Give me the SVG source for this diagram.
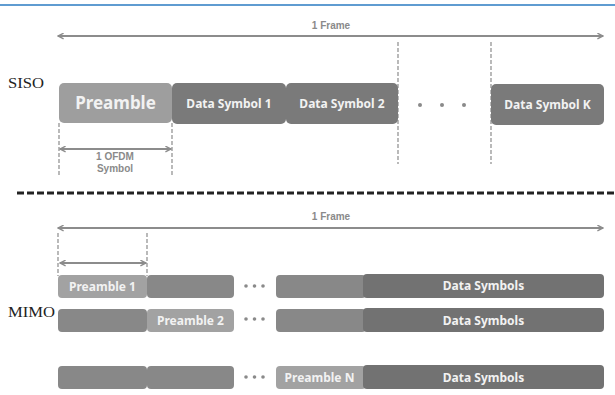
<svg xmlns="http://www.w3.org/2000/svg" width="615" height="395" viewBox="0 0 615 395">
<defs>
<marker id="ah" viewBox="0 0 10 10" refX="9" refY="5" markerWidth="7" markerHeight="7" orient="auto-start-reverse" markerUnits="userSpaceOnUse">
<path d="M1,1 L9,5 L1,9" fill="none" stroke="#8c8c8c" stroke-width="2"/>
</marker>
<style>
.bg{fill:#ffffff}
.arr{stroke:#8c8c8c;stroke-width:2;fill:none;marker-start:url(#ah);marker-end:url(#ah)}
.dash{stroke:#8c8c8c;stroke-width:1.2;stroke-dasharray:4,2;fill:none}
.sep{stroke:#222;stroke-width:3;stroke-dasharray:7,3;fill:none}
.pre{fill:#9e9e9e}
.pre2{fill:#a2a2a2}
.dat{fill:#7a7a7a}
.mid{fill:#888888}
.dk{fill:#727272}
.lbl{font-family:"Liberation Sans",Arial,sans-serif;font-size:10px;fill:#8a8a8a;font-weight:bold;text-anchor:middle}
.bt{font-family:"Noto Sans","Open Sans",sans-serif;font-weight:bold;fill:#f2f2f2;text-anchor:middle}
.side{font-family:"Liberation Serif","Times New Roman",serif;font-size:15px;fill:#222}
.dot{fill:#8a8a8a}
</style>
</defs>
<rect class="bg" x="0" y="0" width="615" height="395"/>
<line x1="0" y1="5" x2="615" y2="5" stroke="#2a7bc2" stroke-width="1.5"/>

<g id="connectors">
<line class="arr" x1="58" y1="36" x2="603" y2="36"/>
<line class="dash" x1="398" y1="42" x2="398" y2="164"/>
<line class="dash" x1="491" y1="42" x2="491" y2="164"/>
<line class="dash" x1="59" y1="123" x2="59" y2="177"/>
<line class="dash" x1="172" y1="123" x2="172" y2="177"/>
<line class="arr" x1="60" y1="149" x2="171" y2="149"/>
<line class="sep" x1="17" y1="193" x2="615" y2="193"/>
<line class="arr" x1="58" y1="228" x2="603" y2="228"/>
<line class="dash" x1="58" y1="233" x2="58" y2="276"/>
<line class="dash" x1="147" y1="233" x2="147" y2="276"/>
<line class="arr" x1="60" y1="263" x2="146" y2="263"/>
</g>

<g id="labels">
<text class="lbl" x="331" y="29">1 Frame</text>
<text class="lbl" x="115" y="160">1 OFDM</text>
<text class="lbl" x="115" y="172">Symbol</text>
<text class="lbl" x="331" y="220">1 Frame</text>
<text class="side" x="8" y="88" textLength="36" lengthAdjust="spacingAndGlyphs">SISO</text>
<text class="side" x="8" y="317" textLength="47" lengthAdjust="spacingAndGlyphs">MIMO</text>
</g>

<g id="siso-preamble">
<rect class="pre" x="59" y="83" width="113" height="40" rx="5"/>
<text class="bt" x="115.5" y="109" font-size="17" font-weight="500">Preamble</text>
</g>
<g id="siso-data1">
<rect class="dat" x="172" y="83" width="114" height="41" rx="5"/>
<text class="bt" x="229" y="108" font-size="12">Data Symbol 1</text>
</g>
<g id="siso-data2">
<rect class="dat" x="286" y="83" width="112" height="41" rx="5"/>
<text class="bt" x="342" y="108" font-size="12">Data Symbol 2</text>
</g>
<g id="siso-dots">
<circle class="dot" cx="420" cy="105" r="2"/>
<circle class="dot" cx="442" cy="105" r="2"/>
<circle class="dot" cx="464" cy="105" r="2"/>
</g>
<g id="siso-dataK">
<rect class="dat" x="491" y="84" width="113" height="41" rx="5"/>
<text class="bt" x="547.5" y="109" font-size="12">Data Symbol K</text>
</g>

<g id="mimo-row1">
<rect class="pre2" x="58" y="275" width="89" height="23" rx="4"/>
<text class="bt" x="102.5" y="291" font-size="12">Preamble 1</text>
<rect class="mid" x="147" y="275" width="87" height="23" rx="4"/>
<circle class="dot" cx="246" cy="286" r="1.8"/><circle class="dot" cx="254.5" cy="286" r="1.8"/><circle class="dot" cx="263" cy="286" r="1.8"/>
<rect class="mid" x="276" y="275" width="90" height="23" rx="4"/>
<rect class="dk" x="363" y="274" width="241" height="24" rx="4"/>
<text class="bt" x="483.5" y="290" font-size="12">Data Symbols</text>
</g>
<g id="mimo-row2">
<rect class="mid" x="58" y="309" width="89" height="23" rx="4"/>
<rect class="pre2" x="147" y="309" width="87" height="23" rx="4"/>
<text class="bt" x="190.5" y="325" font-size="12">Preamble 2</text>
<circle class="dot" cx="246" cy="319" r="1.8"/><circle class="dot" cx="254.5" cy="319" r="1.8"/><circle class="dot" cx="263" cy="319" r="1.8"/>
<rect class="mid" x="276" y="309" width="90" height="23" rx="4"/>
<rect class="dk" x="363" y="308" width="241" height="24" rx="4"/>
<text class="bt" x="483.5" y="325" font-size="12">Data Symbols</text>
</g>
<g id="mimo-rowN">
<rect class="mid" x="58" y="366" width="89" height="23" rx="4"/>
<rect class="mid" x="147" y="366" width="87" height="23" rx="4"/>
<circle class="dot" cx="246" cy="377" r="1.8"/><circle class="dot" cx="254.5" cy="377" r="1.8"/><circle class="dot" cx="263" cy="377" r="1.8"/>
<rect class="pre2" x="276" y="366" width="90" height="23" rx="4"/>
<text class="bt" x="319.5" y="382" font-size="12">Preamble N</text>
<rect class="dk" x="363" y="365" width="241" height="24" rx="4"/>
<text class="bt" x="483.5" y="382" font-size="12">Data Symbols</text>
</g>
</svg>
